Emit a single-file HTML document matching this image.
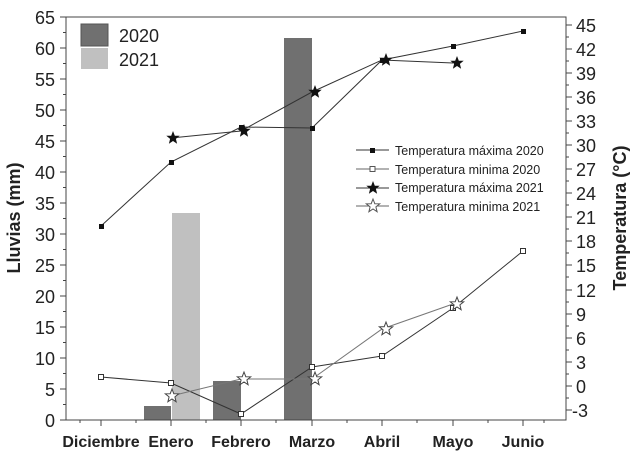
<!DOCTYPE html>
<html><head><meta charset="utf-8"><style>
html,body{margin:0;padding:0;background:#fff;}
svg{display:block;}
text{font-family:"Liberation Sans",Arial,sans-serif;fill:#222;}
</style></head><body>
<svg width="635" height="452" viewBox="0 0 635 452" xmlns="http://www.w3.org/2000/svg">
<defs>
<polygon id="star" points="0,-7 1.8,-2.3 6.7,-2.2 2.9,0.9 4.1,5.7 0,3 -4.1,5.7 -2.9,0.9 -6.7,-2.2 -1.8,-2.3"/>
</defs>
<!-- bars -->
<rect x="144" y="406" width="27" height="14" fill="#707070"/>
<rect x="172" y="213" width="28" height="207" fill="#c0c0c0"/>
<rect x="213" y="381" width="28" height="39" fill="#707070"/>
<rect x="284" y="38" width="28" height="382" fill="#707070"/>
<!-- frame -->
<rect x="66" y="17" width="500" height="403" fill="none" stroke="#444" stroke-width="1"/>
<g stroke="#444" stroke-width="1" id="ticks">
<!-- left ticks -->
<path d="M66,420h-6M66,389h-6M66,358h-6M66,327h-6M66,296h-6M66,265h-6M66,234h-6M66,203h-6M66,172h-6M66,141h-6M66,110h-6M66,79h-6M66,48h-6M66,17h-6"/>
<path d="M66,404.5h-3M66,373.5h-3M66,342.5h-3M66,311.5h-3M66,280.5h-3M66,249.5h-3M66,218.5h-3M66,187.5h-3M66,156.5h-3M66,125.5h-3M66,94.5h-3M66,63.5h-3M66,32.5h-3"/>
<!-- right ticks -->
<path d="M566,25h6M566,49h6M566,73h6M566,97h6M566,121h6M566,145h6M566,169h6M566,193h6M566,217h6M566,241h6M566,265h6M566,290h6M566,314h6M566,338h6M566,362h6M566,386h6M566,410h6"/>
<path d="M566,37h3M566,61h3M566,85h3M566,109h3M566,133h3M566,157h3M566,181h3M566,205h3M566,229h3M566,253h3M566,277h3M566,302h3M566,326h3M566,350h3M566,374h3M566,398h3"/>
<!-- bottom ticks -->
<path d="M101,420v6M171,420v6M241,420v6M312,420v6M382,420v6M453,420v6M523,420v6"/>
<path d="M136,420v3M206,420v3M276,420v3M347,420v3M417,420v3M488,420v3M544,420v3M80,420v3"/>
</g>
<!-- left labels -->
<g font-size="18" text-anchor="end">
<text x="55" y="427">0</text><text x="55" y="396">5</text><text x="55" y="365">10</text><text x="55" y="334">15</text><text x="55" y="303">20</text><text x="55" y="272">25</text><text x="55" y="241">30</text><text x="55" y="210">35</text><text x="55" y="179">40</text><text x="55" y="148">45</text><text x="55" y="117">50</text><text x="55" y="86">55</text><text x="55" y="55">60</text><text x="55" y="24">65</text>
</g>
<g font-size="18" text-anchor="start">
<text x="576" y="32">45</text><text x="576" y="56">42</text><text x="576" y="80">39</text><text x="576" y="104">36</text><text x="576" y="128">33</text><text x="576" y="152">30</text><text x="576" y="176">27</text><text x="576" y="200">24</text><text x="576" y="224">21</text><text x="576" y="248">18</text><text x="576" y="272">15</text><text x="576" y="297">12</text><text x="576" y="321">9</text><text x="576" y="345">6</text><text x="576" y="369">3</text><text x="576" y="393">0</text><text x="572" y="417">-3</text>
</g>
<g font-size="16" font-weight="bold" text-anchor="middle">
<text x="101" y="447">Diciembre</text><text x="171" y="447">Enero</text><text x="241" y="447">Febrero</text><text x="312" y="447">Marzo</text><text x="382" y="447">Abril</text><text x="453" y="447">Mayo</text><text x="523" y="447">Junio</text>
</g>
<text x="0" y="0" font-size="18" font-weight="bold" text-anchor="middle" transform="translate(20,218) rotate(-90)">Lluvias (mm)</text>
<text x="0" y="0" font-size="18" font-weight="bold" text-anchor="middle" transform="translate(626,218) rotate(-90)">Temperatura (°C)</text>
<!-- legend bars -->
<rect x="81" y="24" width="27" height="22" fill="#707070" stroke="#555"/>
<rect x="81" y="48" width="27" height="21" fill="#c0c0c0"/>
<text x="119" y="42" font-size="18">2020</text>
<text x="119" y="66" font-size="18">2021</text>
<!-- series -->
<polyline points="101,226 171,162 241,127 312,128 382,60 453,46 523,31" fill="none" stroke="#333" stroke-width="1"/>
<polyline points="101,377 171,383 241,414 312,367 382,356 453,308 523,251" fill="none" stroke="#333" stroke-width="1"/>
<polyline points="171,138 241,131 312,92 382,60 453,63" fill="none" stroke="#333" stroke-width="1"/>
<polyline points="171,396 241,379 312,379 382,329 453,304" fill="none" stroke="#777" stroke-width="1"/>
<g fill="#111">
<rect x="99" y="224" width="5" height="5"/><rect x="169" y="160" width="5" height="5"/><rect x="239" y="125" width="5" height="5"/><rect x="310" y="126" width="5" height="5"/><rect x="380" y="58" width="5" height="5"/><rect x="451" y="44" width="5" height="5"/><rect x="521" y="29" width="5" height="5"/>
</g>
<g fill="#fff" stroke="#333">
<rect x="98.5" y="374.5" width="5" height="5"/><rect x="168.5" y="380.5" width="5" height="5"/><rect x="238.5" y="411.5" width="5" height="5"/><rect x="309.5" y="364.5" width="5" height="5"/><rect x="379.5" y="353.5" width="5" height="5"/><rect x="450.5" y="305.5" width="5" height="5"/><rect x="520.5" y="248.5" width="5" height="5"/>
</g>
<g fill="#111">
<use href="#star" x="173" y="138"/><use href="#star" x="244" y="131"/><use href="#star" x="315" y="92"/><use href="#star" x="386" y="60"/><use href="#star" x="457" y="63"/>
</g>
<g fill="#fff" stroke="#444">
<use href="#star" x="172" y="396"/><use href="#star" x="244" y="379"/><use href="#star" x="315" y="379"/><use href="#star" x="386" y="329"/><use href="#star" x="457" y="304"/>
</g>
<!-- legend lines -->
<g stroke="#333">
<line x1="356" y1="150" x2="389" y2="150"/><line x1="356" y1="169" x2="389" y2="169" stroke="#666"/><line x1="356" y1="188" x2="389" y2="188"/><line x1="356" y1="206" x2="389" y2="206" stroke="#666"/>
</g>
<rect x="370" y="148" width="5" height="5" fill="#111"/>
<rect x="370" y="166.5" width="5" height="5" fill="#fff" stroke="#555"/>
<use href="#star" x="373" y="188" fill="#111"/>
<use href="#star" x="373" y="206" fill="#fff" stroke="#555"/>
<g font-size="12.5">
<text x="395" y="155">Temperatura máxima 2020</text>
<text x="395" y="174">Temperatura minima 2020</text>
<text x="395" y="192">Temperatura máxima 2021</text>
<text x="395" y="211">Temperatura minima 2021</text>
</g>
</svg>
</body></html>
